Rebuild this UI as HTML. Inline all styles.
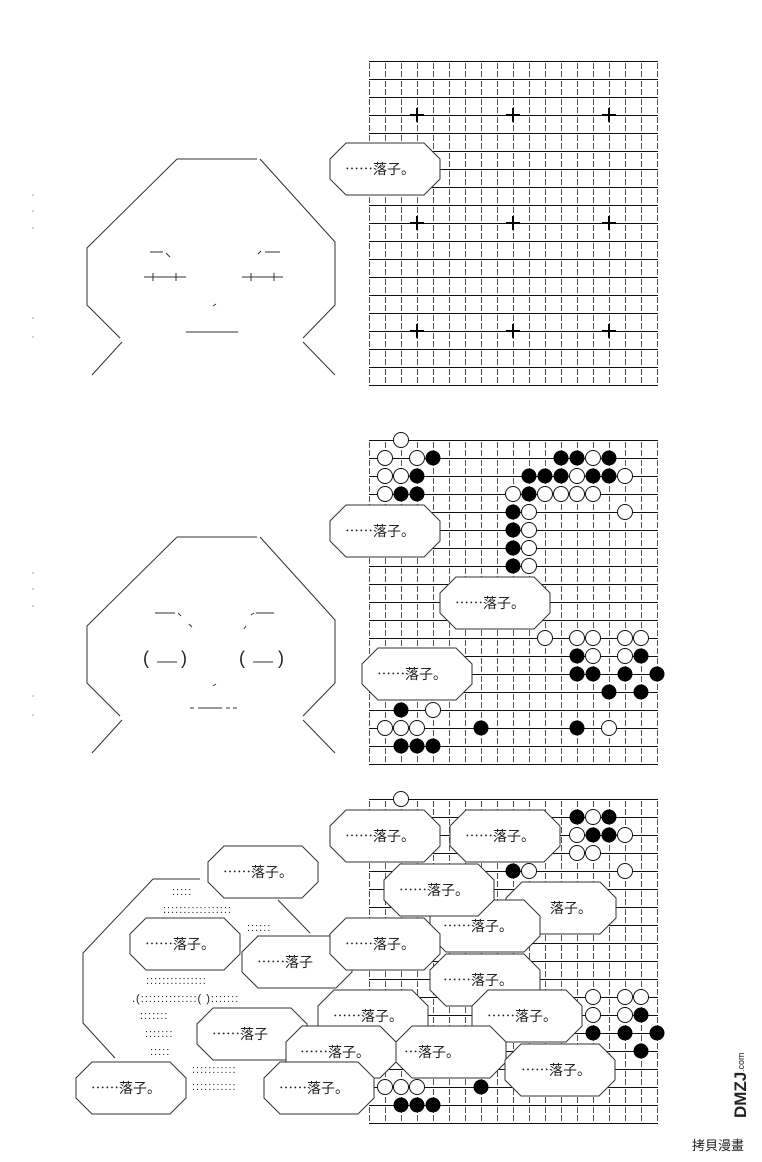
<!DOCTYPE html>
<html><head><meta charset="utf-8"><style>
html,body{margin:0;padding:0;background:#fff}
svg{display:block}
text{font-family:"Liberation Sans","Noto Sans CJK SC",sans-serif;fill:#222}
.cj text{font-family:"Noto Sans CJK SC","WenQuanYi Zen Hei",sans-serif;fill:#222}
</style></head><body>
<svg width="762" height="1162" viewBox="0 0 762 1162" xmlns="http://www.w3.org/2000/svg">
<defs>
<pattern id="g1" x="369" y="61" width="16" height="18" patternUnits="userSpaceOnUse"><line x1="0" y1="0.5" x2="16" y2="0.5" stroke="#111"/><line x1="0.5" y1="2" x2="0.5" y2="18" stroke="#555" stroke-dasharray="6 2"/></pattern>
<pattern id="g2" x="369" y="440" width="16" height="18" patternUnits="userSpaceOnUse"><line x1="0" y1="0.5" x2="16" y2="0.5" stroke="#111"/><line x1="0.5" y1="2" x2="0.5" y2="18" stroke="#555" stroke-dasharray="6 2"/></pattern>
<pattern id="g3" x="369" y="799" width="16" height="18" patternUnits="userSpaceOnUse"><line x1="0" y1="0.5" x2="16" y2="0.5" stroke="#111"/><line x1="0.5" y1="2" x2="0.5" y2="18" stroke="#555" stroke-dasharray="6 2"/></pattern>
<polygon id="b" points="16,0 94,0 110,16 110,36 94,52 16,52 0,36 0,16" fill="#fff" stroke="#333" stroke-width="1"/>
<circle id="w" r="7.5" fill="#fff" stroke="#111" stroke-width="1"/>
<circle id="k" r="7.5" fill="#000"/>
</defs>

<rect x="369" y="61" width="289" height="325" fill="url(#g1)"/>
<rect x="369" y="440" width="289" height="325" fill="url(#g2)"/>
<rect x="369" y="799" width="289" height="325" fill="url(#g3)"/>

<g stroke="#000" stroke-width="2">
<path d="M410 115h14M417 108v14M506 115h14M513 108v14M602 115h14M609 108v14"/>
<path d="M410 223h14M417 216v14M506 223h14M513 216v14M602 223h14M609 216v14"/>
<path d="M410 331h14M417 324v14M506 331h14M513 324v14M602 331h14M609 324v14"/>
</g>

<g fill="none" stroke="#333" stroke-width="1">
<path d="M177 159H257M177 159L87 248V305L120 338M122 342L92 375M260 159L335 242V305L303 338M303 342L335 375"/>
<path d="M150 252h13M166 253l4 4M265 252h15M258 254l3-3M144 277h42M242 277h41M153 273v8M176 273v8M251 273v8M274 273v8M186 332h52M213 306l3-2"/>
<path d="M177 537H257M177 537L87 626V683L120 716M122 720L92 753M260 537L335 620V683L303 716M303 720L335 753"/>
<path d="M155 613h20M178 613l3 3M189 624l3 3M256 613h18M251 615l3-2M246 626l-2 3M157 662h20M253 662h20M190 708h4M198 708h24M226 708h4M233 708h4M213 686l3-2"/>
<path d="M153 879H200M153 879L83 953V1023L115 1058M278 900L310 933M257 936H320M243 972L260 987H337M213 1058H277"/>
</g>
<g font-size="18" fill="#333">
<text x="143" y="664">(</text><text x="181" y="664">)</text>
<text x="239" y="664">(</text><text x="278" y="664">)</text>
</g>
<g fill="#999"><circle cx="33" cy="195" r="0.8"/><circle cx="33" cy="211" r="0.8"/><circle cx="33" cy="228" r="0.8"/><circle cx="33" cy="318" r="0.8"/><circle cx="33" cy="337" r="0.8"/>
<circle cx="33" cy="573" r="0.8"/><circle cx="33" cy="589" r="0.8"/><circle cx="33" cy="606" r="0.8"/><circle cx="33" cy="696" r="0.8"/><circle cx="33" cy="715" r="0.8"/></g>
<g font-size="11" fill="#aaa" style="letter-spacing:1px">
<text x="172" y="895">:::::</text>
<text x="163" y="913">:::::::::::::::::</text>
<text x="247" y="931">::::::</text>
<text x="146" y="984">:::::::::::::::</text>
<text x="132" y="1002">.(::::::::::::::(  ):::::::</text>
<text x="140" y="1019">:::::::</text>
<text x="145" y="1037">:::::::</text>
<text x="150" y="1055">:::::</text>
<text x="192" y="1073">:::::::::::</text>
<text x="192" y="1090">:::::::::::</text>
</g>

<g>
<use href="#w" x="401" y="440"/>
<use href="#w" x="385" y="458"/><use href="#w" x="417" y="458"/><use href="#k" x="433" y="458"/><use href="#k" x="561" y="458"/><use href="#k" x="577" y="458"/><use href="#w" x="593" y="458"/><use href="#k" x="609" y="458"/>
<use href="#w" x="385" y="476"/><use href="#w" x="401" y="476"/><use href="#k" x="417" y="476"/><use href="#k" x="529" y="476"/><use href="#k" x="545" y="476"/><use href="#k" x="561" y="476"/><use href="#w" x="577" y="476"/><use href="#k" x="593" y="476"/><use href="#k" x="609" y="476"/><use href="#w" x="625" y="476"/>
<use href="#w" x="385" y="494"/><use href="#k" x="401" y="494"/><use href="#k" x="417" y="494"/><use href="#w" x="513" y="494"/><use href="#k" x="529" y="494"/><use href="#w" x="545" y="494"/><use href="#w" x="561" y="494"/><use href="#w" x="577" y="494"/><use href="#w" x="593" y="494"/>
<use href="#k" x="513" y="512"/><use href="#w" x="529" y="512"/><use href="#w" x="625" y="512"/>
<use href="#k" x="513" y="530"/><use href="#w" x="529" y="530"/>
<use href="#k" x="513" y="548"/><use href="#w" x="529" y="548"/>
<use href="#k" x="513" y="566"/><use href="#w" x="529" y="566"/>
<use href="#w" x="545" y="638"/><use href="#w" x="577" y="638"/><use href="#w" x="593" y="638"/><use href="#w" x="625" y="638"/><use href="#w" x="641" y="638"/>
<use href="#k" x="577" y="656"/><use href="#w" x="593" y="656"/><use href="#w" x="625" y="656"/><use href="#k" x="641" y="656"/>
<use href="#k" x="577" y="674"/><use href="#k" x="593" y="674"/><use href="#k" x="625" y="674"/><use href="#k" x="657" y="674"/>
<use href="#k" x="609" y="692"/><use href="#k" x="641" y="692"/>
<use href="#k" x="401" y="710"/><use href="#w" x="433" y="710"/>
<use href="#w" x="385" y="728"/><use href="#w" x="401" y="728"/><use href="#w" x="417" y="728"/><use href="#k" x="481" y="728"/><use href="#k" x="577" y="728"/><use href="#w" x="609" y="728"/>
<use href="#k" x="401" y="746"/><use href="#k" x="417" y="746"/><use href="#k" x="433" y="746"/>
</g>

<g font-size="14" class="cj">
<use href="#b" x="330" y="810"/><text x="345" y="841">……落子。</text>
<use href="#b" x="450" y="810"/><text x="465" y="841">……落子。</text>
<use href="#b" x="208" y="846"/><text x="223" y="877">……落子。</text>
<use href="#b" x="506" y="882"/><text x="550" y="913">落子。</text>
<use href="#b" x="430" y="900"/><text x="443" y="931">……落子。</text>
<use href="#b" x="384" y="864"/><text x="399" y="895">……落子。</text>
<use href="#b" x="242" y="936"/><text x="257" y="967">……落子</text>
<use href="#b" x="130" y="918"/><text x="145" y="949">……落子。</text>
<use href="#b" x="330" y="918"/><text x="345" y="949">……落子。</text>
<use href="#b" x="430" y="954"/><text x="443" y="985">……落子。</text>
<use href="#b" x="197" y="1008"/><text x="212" y="1039">……落子</text>
<use href="#b" x="318" y="990"/><text x="333" y="1021">……落子。</text>
<use href="#b" x="472" y="990"/><text x="487" y="1021">……落子。</text>
<use href="#b" x="396" y="1026"/><text x="404" y="1057">…落子。</text>
<use href="#b" x="286" y="1026"/><text x="300" y="1057">……落子。</text>
<use href="#b" x="505" y="1044"/><text x="521" y="1075">……落子。</text>
<use href="#b" x="76" y="1062"/><text x="91" y="1093">……落子。</text>
<use href="#b" x="264" y="1062"/><text x="279" y="1093">……落子。</text>
</g>

<g>
<use href="#w" x="401" y="799"/>
<use href="#k" x="577" y="817"/><use href="#w" x="593" y="817"/><use href="#k" x="609" y="817"/>
<use href="#w" x="577" y="835"/><use href="#k" x="593" y="835"/><use href="#k" x="609" y="835"/><use href="#w" x="625" y="835"/>
<use href="#w" x="577" y="853"/><use href="#w" x="593" y="853"/>
<use href="#k" x="513" y="871"/><use href="#w" x="529" y="871"/><use href="#w" x="625" y="871"/>
<use href="#w" x="593" y="997"/><use href="#w" x="625" y="997"/><use href="#w" x="641" y="997"/>
<use href="#w" x="593" y="1015"/><use href="#w" x="625" y="1015"/><use href="#k" x="641" y="1015"/>
<use href="#k" x="593" y="1033"/><use href="#k" x="625" y="1033"/><use href="#k" x="657" y="1033"/>
<use href="#k" x="641" y="1051"/>
<use href="#w" x="385" y="1087"/><use href="#w" x="401" y="1087"/><use href="#w" x="417" y="1087"/><use href="#k" x="481" y="1087"/>
<use href="#k" x="401" y="1105"/><use href="#k" x="417" y="1105"/><use href="#k" x="433" y="1105"/>
</g>

<g font-size="14" class="cj">
<use href="#b" x="330" y="143"/><text x="345" y="174">……落子。</text>
<use href="#b" x="330" y="505"/><text x="345" y="536">……落子。</text>
<use href="#b" x="440" y="577"/><text x="455" y="608">……落子。</text>
<use href="#b" x="362" y="648"/><text x="377" y="679">……落子。</text>
</g>

<text x="0" y="0" font-size="17" font-weight="bold" fill="#bbb" transform="translate(746,1118) rotate(-90)">DMZJ</text>
<text x="0" y="0" font-size="9" fill="#aaa" transform="translate(744,1072) rotate(-90)">.com</text>
<text x="692" y="1150" font-size="13" fill="#333">拷貝漫畫</text>
</svg>
</body></html>
